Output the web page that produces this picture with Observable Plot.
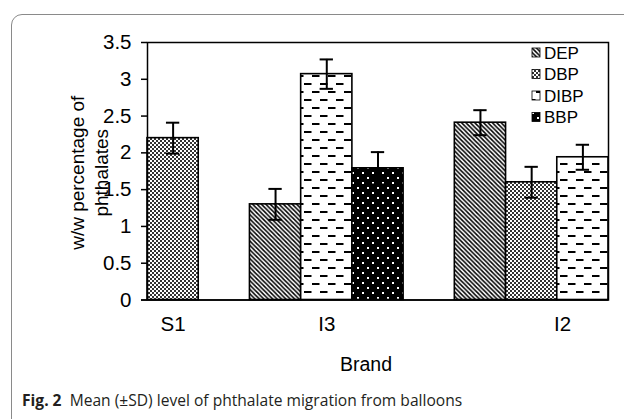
<!DOCTYPE html>
<html><head><meta charset="utf-8">
<script src="https://cdn.jsdelivr.net/npm/d3@7"></script>
<script src="https://cdn.jsdelivr.net/npm/@observablehq/plot@0.6"></script>
<style>
html,body{margin:0;padding:0;background:#fff;overflow:hidden;width:624px;height:419px}
#chart{position:absolute;left:0;top:0}
#frame{position:absolute;left:11px;top:14px;width:700px;height:500px;border:1px solid #8a8a8a;border-radius:11px;box-sizing:border-box;z-index:2;pointer-events:none}
#caption{position:absolute;left:22px;top:389px;font-family:"Open Sans",sans-serif;font-size:15.6px;color:#231f20;white-space:nowrap;z-index:3}
</style></head><body>
<div id="chart"></div>
<div id="frame"></div>
<div id="caption"><b>Fig. 2</b>&nbsp; Mean (±SD) level of phthalate migration from balloons</div>
<script>
// ---- data ----
const brands = ["S1", "I3", "I2"];
const seriesNames = ["DEP", "DBP", "DIBP", "BBP"];
const DEP  = [null, 1.30, 2.41];
const DBP  = [2.20, null, 1.60];
const DIBP = [null, 3.07, 1.94];
const BBP  = [null, 1.79, null];
const DEP_sd  = [null, 0.21, 0.17];
const DBP_sd  = [0.21, null, 0.21];
const DIBP_sd = [null, 0.20, 0.17];
const BBP_sd  = [null, 0.22, null];
const yTicks = [0, 0.5, 1, 1.5, 2, 2.5, 3, 3.5];
const yLabel = "w/w percentage of\nphthalates";
const xLabel = "Brand";

const valuesBySeries = {DEP, DBP, DIBP, BBP};
const sdBySeries = {DEP: DEP_sd, DBP: DBP_sd, DIBP: DIBP_sd, BBP: BBP_sd};

// build rows: each present bar gets its own slot, one empty slot between brands
const rows = [];
let slot = 0;
brands.forEach((b, bi) => {
  seriesNames.forEach(s => {
    const v = valuesBySeries[s][bi];
    if (v != null) rows.push({brand: b, series: s, value: v, sd: sdBySeries[s][bi], slot: slot++});
  });
  if (bi < brands.length - 1) slot++;
});
const nSlots = slot;
const centers = brands.map(b => {
  const r = rows.filter(d => d.brand === b);
  return {brand: b, c: d3.mean(r, d => d.slot + 0.5)};
});

const W = 624, H = 385;
const font = "'Liberation Sans', Arial, sans-serif";

const chart = Plot.plot({
  width: W, height: H,
  marginLeft: 147, marginRight: 16, marginTop: 42, marginBottom: H - 299.5,
  style: {fontFamily: font, fontSize: "20.5px", color: "#000", background: "transparent", overflow: "visible"},
  x: {type: "linear", domain: [0, nSlots], axis: null},
  y: {domain: [0, 3.5]},
  marks: [
    ...seriesNames.map(s => Plot.rectY(rows.filter(d => d.series === s), {
      x1: "slot", x2: d => d.slot + 1, y1: 0, y2: "value",
      fill: `url(#pat-${s})`, stroke: "#000", strokeWidth: 1.6
    })),
    Plot.ruleX(rows, {x: d => d.slot + 0.5, y1: d => d.value - d.sd, y2: d => d.value + d.sd, stroke: "#000", strokeWidth: 2}),
    Plot.ruleY(rows, {y: d => d.value + d.sd, x1: d => d.slot + 0.37, x2: d => d.slot + 0.63, stroke: "#000", strokeWidth: 2}),
    Plot.ruleY(rows, {y: d => d.value - d.sd, x1: d => d.slot + 0.37, x2: d => d.slot + 0.63, stroke: "#000", strokeWidth: 2}),
    Plot.frame({stroke: "#000", strokeWidth: 1.5}),
    Plot.ruleY([0], {stroke: "#000", strokeWidth: 1.5, insetLeft: -6}),
    Plot.axisY({ticks: yTicks, tickFormat: d => String(d), tickSize: 6, tickPadding: 10, label: null, stroke: "#000", strokeWidth: 1.5, fontSize: 20.5}),
    Plot.text(centers.slice(0, 2), {x: "c", text: "brand", frameAnchor: "bottom", dy: 31, fontSize: 20.5}),
    Plot.text(centers.slice(2), {x: "c", text: "brand", frameAnchor: "bottom", dy: 31, dx: 31, fontSize: 20.5}),
    Plot.text([xLabel], {text: d => d, frameAnchor: "bottom", dy: 71, dx: -12, fontSize: 19.5}),
    Plot.text([yLabel], {text: d => d, frameAnchor: "left", textAnchor: "middle", rotate: -90, dx: -59, dy: 1.5, lineHeight: 1.25, fontSize: 19})
  ]
});
document.getElementById("chart").appendChild(chart);

// patterns
const svg = d3.select(chart);
const defs = svg.insert("defs", ":first-child");
const pDEP = defs.append("pattern").attr("id", "pat-DEP").attr("patternUnits", "userSpaceOnUse").attr("width", 4.4).attr("height", 4.4);
pDEP.append("rect").attr("width", 4.4).attr("height", 4.4).attr("fill", "#fff");
pDEP.append("path").attr("d", "M0,0L4.4,4.4M-2.2,2.2L2.2,6.6M2.2,-2.2L6.6,2.2").attr("stroke", "#000").attr("stroke-width", 1.5);
const pDBP = defs.append("pattern").attr("id", "pat-DBP").attr("patternUnits", "userSpaceOnUse").attr("width", 4).attr("height", 4);
pDBP.append("rect").attr("width", 4).attr("height", 4).attr("fill", "#fff");
pDBP.append("rect").attr("width", 2).attr("height", 2).attr("fill", "#333");
pDBP.append("rect").attr("x", 2).attr("y", 2).attr("width", 2).attr("height", 2).attr("fill", "#333");
const pDIBP = defs.append("pattern").attr("id", "pat-DIBP").attr("patternUnits", "userSpaceOnUse").attr("width", 16).attr("height", 16);
pDIBP.append("rect").attr("width", 16).attr("height", 16).attr("fill", "#fff");
pDIBP.append("rect").attr("x", 0).attr("y", 3).attr("width", 7.5).attr("height", 2).attr("fill", "#000");
pDIBP.append("rect").attr("x", 8).attr("y", 11).attr("width", 7.5).attr("height", 2).attr("fill", "#000");
const pBBP = defs.append("pattern").attr("id", "pat-BBP").attr("patternUnits", "userSpaceOnUse").attr("width", 10).attr("height", 10);
pBBP.append("rect").attr("width", 10).attr("height", 10).attr("fill", "#000");
pBBP.append("rect").attr("x", 2).attr("y", 2).attr("width", 2).attr("height", 2).attr("fill", "#fff");
pBBP.append("rect").attr("x", 7).attr("y", 7).attr("width", 2).attr("height", 2).attr("fill", "#fff");

// legend
const lg = svg.append("g").attr("font-family", font).attr("font-size", 17).attr("text-anchor", "start");
seriesNames.forEach((s, i) => {
  const y = 52.5 + i * 21.5;
  lg.append("rect").attr("x", 532).attr("y", y - 4.5).attr("width", 8).attr("height", 9)
    .attr("fill", `url(#pat-${s})`).attr("stroke", "#000").attr("stroke-width", 0.8);
  lg.append("text").attr("x", 544).attr("y", y).attr("dy", "0.36em").text(s);
});
</script>
</body></html>
